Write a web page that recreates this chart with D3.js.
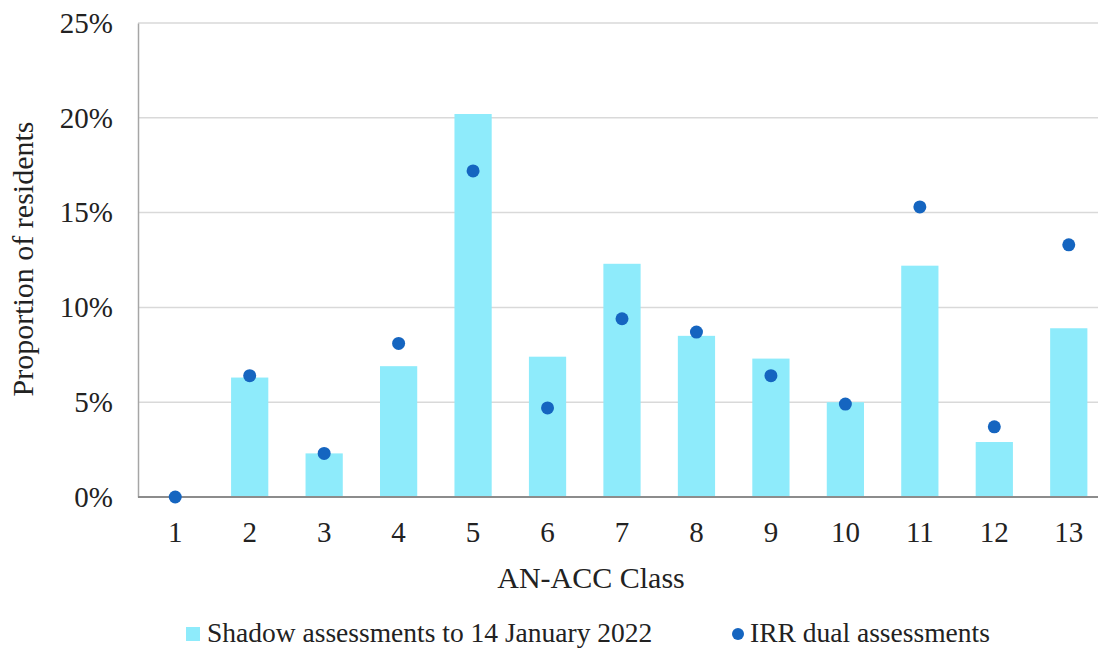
<!DOCTYPE html>
<html><head><meta charset="utf-8">
<script src="https://cdn.jsdelivr.net/npm/d3@7"></script>
<style>body{margin:0;background:#fff}svg{display:block}text{font-family:"Liberation Serif","Times New Roman",serif;fill:#222}</style>
</head><body><svg id="c" width="1098" height="648"></svg>
<script>
const categories = ["1","2","3","4","5","6","7","8","9","10","11","12","13"];
const shadowValues = [0, 6.3, 2.3, 6.9, 20.2, 7.4, 12.3, 8.5, 7.3, 5.0, 12.2, 2.9, 8.9];
const irrValues = [0, 6.4, 2.3, 8.1, 17.2, 4.7, 9.4, 8.7, 6.4, 4.9, 15.3, 3.7, 13.3];
const yTicks = [0, 5, 10, 15, 20, 25];
const seriesNames = ["Shadow assessments to 14 January 2022", "IRR dual assessments"];

const svg = d3.select("#c");
const mLeft = 138, mRight = 1106, mTop = 23, mBottom = 497;
const x = d3.scaleBand().domain(categories).range([mLeft, mRight]).paddingInner(0.5).paddingOuter(0.25);
const y = d3.scaleLinear().domain([0, 25]).range([mBottom, mTop]);
const barColor = "#8eebfb", dotColor = "#1565c0";

// gridlines
svg.append("g").selectAll("line").data(yTicks.filter(d => d > 0)).join("line")
  .attr("x1", mLeft).attr("x2", 1098).attr("y1", d => y(d)).attr("y2", d => y(d))
  .attr("stroke", "#d9d9d9").attr("stroke-width", 1.5);

// y axis
const yAxis = svg.append("g").attr("transform", `translate(${mLeft},0)`)
  .call(d3.axisLeft(y).tickValues(yTicks).tickFormat(d => d + "%").tickSize(0).tickPadding(25));
yAxis.select(".domain").attr("stroke", "#a6a6a6").attr("stroke-width", 1.5);
yAxis.selectAll("text").attr("font-size", 29).attr("dy", "0.32em").style("font-family", "Liberation Serif");

// bars
svg.append("g").selectAll("rect").data(categories).join("rect")
  .attr("x", d => x(d)).attr("width", x.bandwidth())
  .attr("y", (d, i) => y(shadowValues[i])).attr("height", (d, i) => y(0) - y(shadowValues[i]))
  .attr("fill", barColor);

// x axis
const xAxis = svg.append("g").attr("transform", `translate(0,${mBottom})`)
  .call(d3.axisBottom(x).tickSize(0).tickPadding(24));
xAxis.select(".domain").attr("d", `M${mLeft},0H1098`).attr("stroke", "#8c8c8c").attr("stroke-width", 2);
xAxis.selectAll("text").attr("font-size", 29).style("font-family", "Liberation Serif");

// dots
svg.append("g").selectAll("circle").data(categories).join("circle")
  .attr("cx", d => x(d) + x.bandwidth() / 2).attr("cy", (d, i) => y(irrValues[i]))
  .attr("r", 6.5).attr("fill", dotColor);

// axis titles
svg.append("text").attr("x", 591).attr("y", 588).attr("text-anchor", "middle").attr("font-size", 30).text("AN-ACC Class");
svg.append("text").attr("transform", "translate(33,259) rotate(-90)").attr("text-anchor", "middle").attr("font-size", 30).text("Proportion of residents");

// legend
const lg = svg.append("g");
lg.append("rect").attr("x", 186).attr("y", 627).attr("width", 14).attr("height", 14).attr("fill", barColor);
lg.append("text").attr("x", 207).attr("y", 642).attr("font-size", 27.5).text(seriesNames[0]);
lg.append("circle").attr("cx", 738).attr("cy", 634).attr("r", 6).attr("fill", dotColor);
lg.append("text").attr("x", 750).attr("y", 642).attr("font-size", 27.5).text(seriesNames[1]);
</script></body></html>
